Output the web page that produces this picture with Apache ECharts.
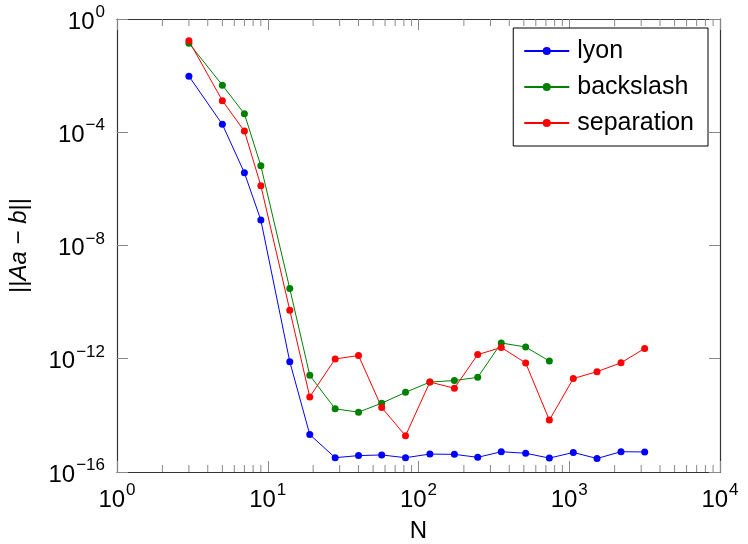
<!DOCTYPE html>
<html>
<head>
<meta charset="utf-8">
<script src="https://cdn.jsdelivr.net/npm/echarts@6/dist/echarts.min.js"></script>
<style>
  html, body { margin: 0; padding: 0; background: #fff; }
  #chart { width: 748px; height: 544px; }
</style>
</head>
<body>
<div id="chart"></div>
<script>
  // problem sizes (x axis)
  var sizes = [3, 5, 7, 9, 14, 19, 28, 40, 57, 82, 119, 173, 247, 354, 514, 738, 1064, 1528, 2205, 3165]
  // residuals
  var lyon = [9.5e-3, 1.9e-4, 3.7e-6, 7.9e-8, 7.9e-13, 2.1e-15, 3.2e-16, 3.8e-16, 4.0e-16, 3.2e-16,
    4.3e-16, 4.2e-16, 3.3e-16, 5.2e-16, 4.6e-16, 3.1e-16, 4.9e-16, 3.0e-16, 5.2e-16, 5.1e-16]
  var backslash = [1.4e-1, 4.6e-3, 4.5e-4, 6.5e-6, 3.0e-10, 2.6e-13, 1.7e-14, 1.3e-14, 2.7e-14, 6.5e-14,
    1.5e-13, 1.7e-13, 2.2e-13, 3.6e-12, 2.6e-12, 8.3e-13]
  var separation = [1.7e-1, 1.3e-3, 1.1e-4, 1.3e-6, 5.2e-11, 4.5e-14, 9.8e-13, 1.3e-12, 1.9e-14, 1.9e-15,
    1.5e-13, 9.1e-14, 1.4e-12, 2.5e-12, 7.1e-13, 6.8e-15, 2.0e-13, 3.5e-13, 7.2e-13, 2.3e-12]
  // minor tick values on the log x axis
  var minorTicks = []
  ;[1, 10, 100, 1000].forEach(function (d) {
    for (var k = 2; k <= 9; k++) minorTicks.push(k * d)
  })

  var font = 'Liberation Sans'
  var axisColor = '#333'
  var tickColor = '#888'

  function pairs(ys) {
    return ys.map(function (y, i) { return [sizes[i], y] })
  }

  function supLabel(v) {
    var e = Math.round(Math.log(v) / Math.LN10)
    return '{b|10}{s|' + String(e).replace('-', '\u2212') + '}'
  }

  var labelRich = {
    b: { fontFamily: font, fontSize: 24, color: '#000', verticalAlign: 'bottom', lineHeight: 30 },
    s: { fontFamily: font, fontSize: 17, color: '#000', verticalAlign: 'top', lineHeight: 30, padding: [0, 0, 11, 1] }
  }

  function makeLine(name, color, ys) {
    return {
      name: name,
      type: 'line',
      data: pairs(ys),
      symbol: 'circle',
      symbolSize: 7,
      color: color,
      lineStyle: { width: 1, color: color },
      itemStyle: { color: color },
      animation: false,
      z: 3
    }
  }

  var chart = echarts.init(document.getElementById('chart'))
  chart.setOption({
    animation: false,
    grid: { left: 117, right: 28, top: 19, bottom: 72, outerBoundsMode: 'none' },
    legend: {
      right: 40,
      top: 28,
      orient: 'vertical',
      data: ['lyon', 'backslash', 'separation'],
      backgroundColor: '#fff',
      borderColor: '#000',
      borderWidth: 1,
      borderRadius: 0,
      padding: [10, 14, 10, 10],
      itemWidth: 45,
      itemHeight: 10,
      itemGap: 10,
      textStyle: { fontFamily: font, fontSize: 25, color: '#000', lineHeight: 26, padding: [0, 0, 0, 3] }
    },
    xAxis: [{
      type: 'log',
      logBase: 10,
      min: 1,
      max: 10000,
      name: 'N',
      nameLocation: 'middle',
      nameGap: 47,
      nameTextStyle: { fontFamily: font, fontSize: 24, color: '#000' },
      axisLine: { lineStyle: { color: axisColor, width: 1.2 } },
      axisTick: { inside: true, length: 11, lineStyle: { color: tickColor } },
      axisLabel: { margin: 10, formatter: supLabel, rich: labelRich },
      splitLine: { show: false }
    }, {
      type: 'log',
      position: 'top',
      min: 1,
      max: 10000,
      axisLine: { lineStyle: { color: axisColor, width: 1.2 } },
      axisTick: { inside: true, length: 11, lineStyle: { color: tickColor } },
      axisLabel: { show: false },
      splitLine: { show: false }
    }],
    yAxis: [{
      type: 'log',
      logBase: 10,
      min: 1e-16,
      max: 1,
      interval: 4,
      name: '{n|||}{i|Aa}{n| \u2212 }{i|b}{n|||}',
      nameLocation: 'middle',
      nameGap: 86,
      nameRotate: 90,
      nameTextStyle: {
        rich: {
          n: { fontFamily: font, fontSize: 24, color: '#000' },
          i: { fontFamily: font, fontSize: 24, color: '#000', fontStyle: 'italic' }
        }
      },
      axisLine: { lineStyle: { color: axisColor, width: 1.2 } },
      axisTick: { inside: true, length: 11, lineStyle: { color: tickColor } },
      axisLabel: { margin: 12, formatter: supLabel, rich: labelRich },
      splitLine: { show: false }
    }, {
      type: 'log',
      position: 'right',
      min: 1e-16,
      max: 1,
      interval: 4,
      axisLine: { lineStyle: { color: axisColor, width: 1.2 } },
      axisTick: { inside: true, length: 11, lineStyle: { color: tickColor } },
      axisLabel: { show: false },
      splitLine: { show: false }
    }],
    series: [
      makeLine('lyon', '#0000ff', lyon),
      makeLine('backslash', '#008000', backslash),
      makeLine('separation', '#ff0000', separation),
      {
        // minor ticks on bottom and top edges
        type: 'custom',
        silent: true,
        data: minorTicks.map(function (v) { return [v] }),
        renderItem: function (params, api) {
          var b = api.coord([api.value(0), 1e-16])
          var t = api.coord([api.value(0), 1])
          var st = { stroke: tickColor, lineWidth: 1 }
          return {
            type: 'group',
            children: [
              { type: 'line', shape: { x1: b[0], y1: b[1], x2: b[0], y2: b[1] - 7 }, style: st },
              { type: 'line', shape: { x1: t[0], y1: t[1], x2: t[0], y2: t[1] + 7 }, style: st }
            ]
          }
        },
        z: 1
      }
    ]
  })
</script>
</body>
</html>
